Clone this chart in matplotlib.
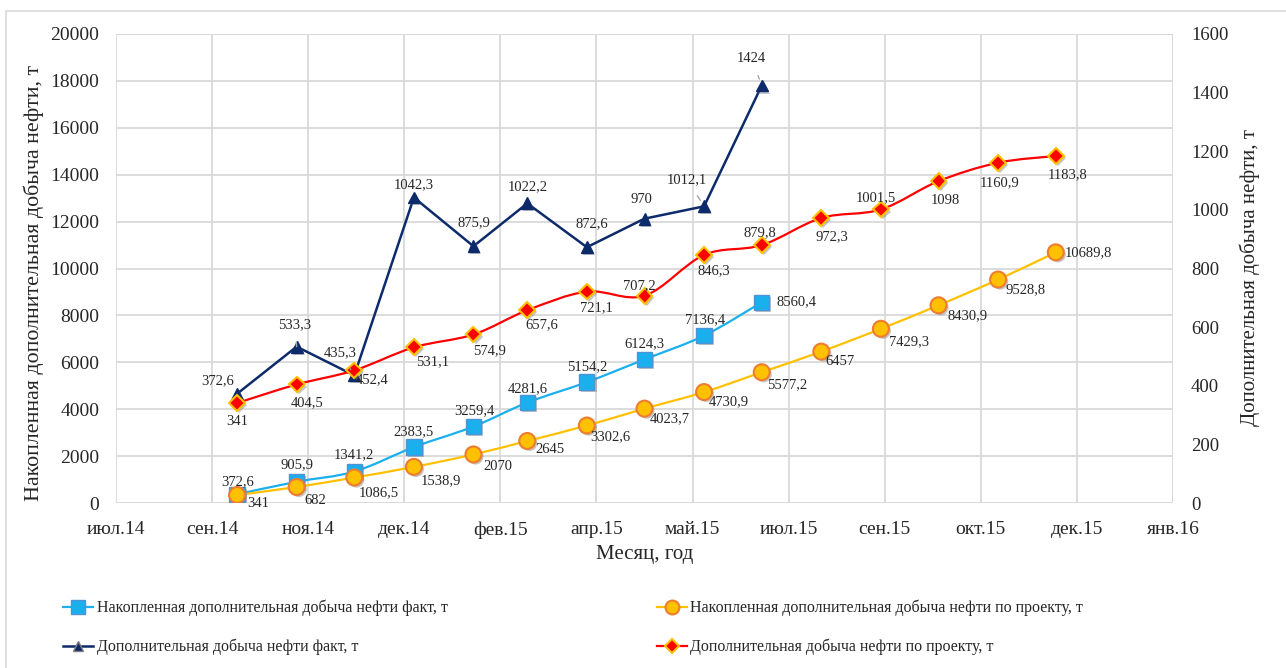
import numpy as np
import pandas as pd
import matplotlib
matplotlib.use('Agg')
import matplotlib.pyplot as plt
import matplotlib.dates as mdates
from matplotlib.path import Path
from matplotlib.patches import PathPatch, Rectangle
from matplotlib.lines import Line2D
import matplotlib.patheffects as pe
import datetime as dt

# ---------------- data ----------------
months = pd.date_range('2014-09-30', periods=15, freq='ME')
cum_fact = [372.6, 905.9, 1341.2, 2383.5, 3259.4, 4281.6, 5154.2, 6124.3, 7136.4, 8560.4]
cum_plan = [341, 682, 1086.5, 1538.9, 2070, 2645, 3302.6, 4023.7, 4730.9, 5577.2,
            6457, 7429.3, 8430.9, 9528.8, 10689.8]
add_fact = [372.6, 533.3, 435.3, 1042.3, 875.9, 1022.2, 872.6, 970, 1012.1, 1424]
add_plan = [341, 404.5, 452.4, 531.1, 574.9, 657.6, 721.1, 707.2, 846.3, 879.8,
            972.3, 1001.5, 1098, 1160.9, 1183.8]
tick_labels = ['июл.14', 'сен.14', 'ноя.14', 'дек.14', 'фев.15', 'апр.15', 'май.15',
               'июл.15', 'сен.15', 'окт.15', 'дек.15', 'янв.16']
names = ['Накопленная дополнительная добыча нефти факт, т',
         'Дополнительная добыча нефти факт, т',
         'Накопленная дополнительная добыча нефти по проекту, т',
         'Дополнительная добыча нефти по проекту, т']

# label offsets (pixels) -- layout only
off_add_fact = [(-19, 13), (-2, 22), (-14, 23), (0, 13), (0, 24), (0, 17), (5, 24),
                (-3, 19), (-17, 27), (-10, 27)]
off_add_plan = [(0, -18), (10, -18), (18, -9), (19, -14), (16, -16), (14, -14), (10, -16),
                (-5, 10), (10, -16), (-2, 12), (11, -19), (-5, 12), (7, -19), (1, -20), (12, -19)]
off_cum_fact = [(1, 13), (0, 17), (0, 17), (0, 15), (1, 16), (0, 14), (0, 15), (0, 16),
                (1, 16), (35, 1)]
off_cum_plan = [(21, -8), (19, -13), (24, -15), (27, -14), (24, -12), (23, -9), (23, -11),
                (25, -10), (25, -10), (25, -12), (19, -10), (28, -13), (29, -10), (27, -10), (33, 0)]
leader = {8, 9, 1, 2}

plt.rcParams['font.family'] = ['Liberation Serif', 'DejaVu Serif']

W, H = 1286, 668
fig = plt.figure(figsize=(W / 100, H / 100), dpi=100)
fig.patches.append(Rectangle((6 / W, -0.1), 1.2, 1 - 11 / H + 0.1, transform=fig.transFigure,
                             fill=False, edgecolor='#D9D9D9', linewidth=1.2))

ax = fig.add_axes([116 / W, 1 - 503 / H, (1173 - 116) / W, (503 - 34) / H])
ax2 = ax.twinx()

xd = mdates.date2num(months.to_pydatetime())
start = dt.datetime(2014, 7, 29)
tick_dates = [start + dt.timedelta(days=50 * i) for i in range(len(tick_labels))]
tick_num = mdates.date2num(tick_dates)


def smooth_path(x, y):
    x = np.asarray(x, float)
    y = np.asarray(y, float)
    verts = [(x[0], y[0])]
    codes = [Path.MOVETO]
    n = len(x)
    for i in range(n - 1):
        p0 = np.array([x[max(i - 1, 0)], y[max(i - 1, 0)]])
        p1 = np.array([x[i], y[i]])
        p2 = np.array([x[i + 1], y[i + 1]])
        p3 = np.array([x[min(i + 2, n - 1)], y[min(i + 2, n - 1)]])
        c1 = p1 + (p2 - p0) / 6.0
        c2 = p2 - (p3 - p1) / 6.0
        verts += [tuple(c1), tuple(c2), tuple(p2)]
        codes += [Path.CURVE4] * 3
    return Path(verts, codes)


shadow = [pe.SimplePatchShadow(offset=(1.5, -1.5), shadow_rgbFace='#808080', alpha=0.45), pe.Normal()]


def fmt(v):
    return f"{v:g}".replace('.', ',')


def labels(axis, x, y, offs, lead=()):
    for i, (xi, yi) in enumerate(zip(x, y)):
        kw = {}
        if i in lead:
            kw['arrowprops'] = dict(arrowstyle='-', color='#A6A6A6', lw=1.0,
                                    shrinkA=6, shrinkB=5)
        axis.annotate(fmt(yi), (xi, yi), xytext=offs[i], textcoords='offset pixels',
                      ha='center', va='center', fontsize=10.5, color='#262626', zorder=6, **kw)


# cumulative fact (blue)
c_blue, c_blue_e = '#1AB0EE', '#4F93D6'
ax.add_patch(PathPatch(smooth_path(xd[:len(cum_fact)], cum_fact), fill=False,
                       edgecolor=c_blue, lw=1.6, zorder=3))
ax.plot(xd[:len(cum_fact)], cum_fact, ls='none', marker='s', ms=11, mfc=c_blue,
        mec=c_blue_e, mew=1.0, zorder=4, path_effects=shadow)
# cumulative plan (yellow)
c_yel, c_yel_e = '#FFC000', '#ED7D31'
ax.add_patch(PathPatch(smooth_path(xd, cum_plan), fill=False, edgecolor=c_yel, lw=1.6, zorder=3))
ax.plot(xd, cum_plan, ls='none', marker='o', ms=11.5, mfc=c_yel, mec=c_yel_e, mew=1.5,
        zorder=4, path_effects=shadow)
labels(ax, xd[:len(cum_fact)], cum_fact, off_cum_fact)
labels(ax, xd, cum_plan, off_cum_plan)

# additional fact (navy)
c_navy = '#0D2B6B'
ax2.plot(xd[:len(add_fact)], add_fact, color=c_navy, lw=1.8, zorder=3)
ax2.plot(xd[:len(add_fact)], add_fact, ls='none', marker='^', ms=8.5, mfc=c_navy,
         mec=c_navy, zorder=4, path_effects=shadow)
# additional plan (red)
c_red = '#FF0000'
ax2.add_patch(PathPatch(smooth_path(xd, add_plan), fill=False, edgecolor=c_red, lw=1.6, zorder=3))
ax2.plot(xd, add_plan, ls='none', marker='D', ms=8, mfc=c_red, mec='#FFC000', mew=1.5,
         zorder=4, path_effects=shadow)
labels(ax2, xd[:len(add_fact)], add_fact, off_add_fact, leader)
labels(ax2, xd, add_plan, off_add_plan)

# axes styling
for a in (ax, ax2):
    a.set_xlim(tick_num[0], tick_num[-1])
    for s in a.spines.values():
        s.set_visible(False)
ax.set_ylim(0, 20000)
ax.set_yticks(np.arange(0, 20001, 2000))
ax2.set_ylim(0, 1600)
ax2.set_yticks(np.arange(0, 1601, 200))
ax.set_xticks(tick_num)
ax.set_xticklabels(tick_labels)
ax.grid(True, color='#D9D9D9', lw=1.3)
ax.set_axisbelow(True)
ax.tick_params(axis='y', length=0, labelsize=14, colors='#262626', pad=12)
ax.tick_params(axis='x', length=0, labelsize=14, colors='#262626', pad=13)
ax2.tick_params(axis='y', length=0, labelsize=13.5, colors='#262626', pad=13)
for yv in (0, 20000):
    ax.axhline(yv, color='#D9D9D9', lw=1.3, zorder=0.5)
ax.axvline(tick_num[-1], color='#D9D9D9', lw=1.3, zorder=0.5)

ax.set_ylabel('Накопленная дополнительная добыча нефти, т', fontsize=15.8, color='#262626')
ax.yaxis.set_label_coords((44 - 116) / 1057, 0.469)
ax2.set_ylabel('Дополнительная добыча нефти, т', fontsize=15, color='#262626')
ax2.yaxis.set_label_coords((1240 - 116) / 1057, 0.48)
ax.set_xlabel('Месяц, год', fontsize=15, color='#262626', labelpad=5)

# legend
handles = [
    Line2D([], [], color=c_blue, lw=1.6, marker='s', ms=10, mfc=c_blue, mec=c_blue_e),
    Line2D([], [], color=c_navy, lw=1.8, marker='^', ms=7, mfc=c_navy, mec='#7F7F7F'),
    Line2D([], [], color=c_yel, lw=1.6, marker='o', ms=10, mfc=c_yel, mec=c_yel_e, mew=1.5),
    Line2D([], [], color=c_red, lw=1.6, marker='D', ms=7, mfc=c_red, mec='#FFC000', mew=1.5),
]
fig.legend(handles, [names[0], names[1], names[2], names[3]], ncol=2, frameon=False,
           loc='upper left', bbox_to_anchor=(63 / W, 1 - 600 / H), fontsize=11.5,
           handlelength=1.9, handletextpad=0.2, columnspacing=13.1, labelspacing=1.4,
           borderpad=0, borderaxespad=0, labelcolor='#262626')

fig.savefig('out.png', dpi=100)
